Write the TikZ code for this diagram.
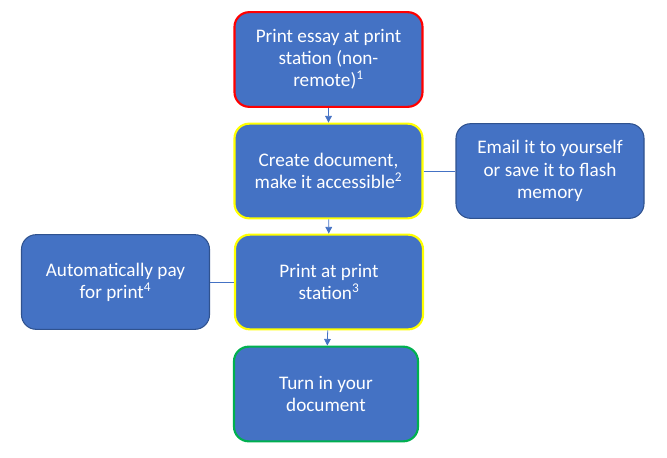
\documentclass[tikz,border=0pt]{standalone}
\usepackage{fontspec}
\setmainfont{Carlito}
\usepackage{tikz}
\usetikzlibrary{arrows.meta}
\usetikzlibrary{backgrounds}

\definecolor{boxblue}{HTML}{4472C4}
\definecolor{edgeblue}{HTML}{2F528F}
\definecolor{stepred}{HTML}{FF0000}
\definecolor{stepyellow}{HTML}{FFFF00}
\definecolor{stepgreen}{HTML}{00B050}

\begin{document}
\begin{tikzpicture}[x=0.75pt,y=-0.75pt]
		\useasboundingbox (0,0) rectangle (667,457);
		\begin{scope}[every node/.style={rectangle,rounded corners=11pt,fill=boxblue,
		              text=white,align=center,font=\fontsize{14.4}{16.6}\selectfont,
		              minimum width=141pt,minimum height=71pt,line width=1.6pt}]
		    	\node[draw=stepred] (print) at (328.5,59.5) {Print essay at print\\station (non-\\remote)\textsuperscript{1}};
			\node[draw=stepyellow] (create) at (328.5,171) {Create document,\\make it accessible\textsuperscript{2}};
		    	\node[draw=edgeblue,line width=0.8pt] (email) at (550,171) {Email it to yourself\\or save it to flash\\memory};
			\node[draw=stepyellow] (station) at (329,282) {Print at print\\station\textsuperscript{3}};
		    	\node[draw=edgeblue,line width=0.8pt] (pay) at (115.5,282) {Automatically pay\\for print\textsuperscript{4}};
			\node[draw=stepgreen,minimum width=138pt] (turnin) at (326,394) {Turn in your\\document};
		\end{scope}
		
		\begin{scope}[>={Triangle[width=5pt,length=5pt]},
		              every edge/.style={draw=boxblue,line width=0.6pt}]
			\path (print) edge[->] (create);
			\path (create) edge[->] (station);
			\path (station) edge[->] (turnin);
			\path (create) edge (email);
			\path (station) edge (pay);
		\end{scope}
		\end{tikzpicture}
\end{document}
